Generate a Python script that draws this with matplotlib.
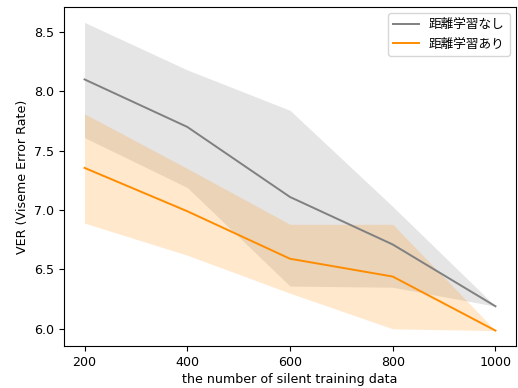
import matplotlib
matplotlib.use("Agg")
import matplotlib.pyplot as plt

plt.rcParams['font.family'] = ['DejaVu Sans', 'Noto Sans CJK JP']
plt.rcParams['font.size'] = 9.1

x = [200, 400, 600, 800, 1000]

# without distance learning
base_mean = [8.10, 7.70, 7.11, 6.71, 6.19]
base_upper = [8.58, 8.18, 7.84, 7.03, 6.19]
base_lower = [7.61, 7.19, 6.36, 6.35, 6.19]

# with distance learning
dist_mean = [7.355, 6.99, 6.59, 6.44, 5.985]
dist_upper = [7.81, 7.35, 6.88, 6.88, 5.985]
dist_lower = [6.89, 6.62, 6.30, 6.00, 5.985]

labels = ["距離学習なし", "距離学習あり"]

fig = plt.figure(figsize=(5.18, 3.88), dpi=100)
ax = fig.add_axes([64 / 518, 42 / 388, 452 / 518, 339 / 388])

ax.plot(x, base_mean, color="gray", label=labels[0], linewidth=1.4)
ax.fill_between(x, base_lower, base_upper, color="gray", alpha=0.2, linewidth=0)
ax.plot(x, dist_mean, color="darkorange", label=labels[1], linewidth=1.4)
ax.fill_between(x, dist_lower, dist_upper, color="darkorange", alpha=0.2, linewidth=0)

ax.set_xticks([200, 400, 600, 800, 1000])
ax.set_xlabel("the number of silent training data", labelpad=3)
ax.set_ylabel("VER (Viseme Error Rate)")
ax.legend(loc="upper right", prop={'family': ['Noto Sans CJK JP', 'DejaVu Sans'], 'size': 9.1})

fig.savefig("out.png", dpi=100)
